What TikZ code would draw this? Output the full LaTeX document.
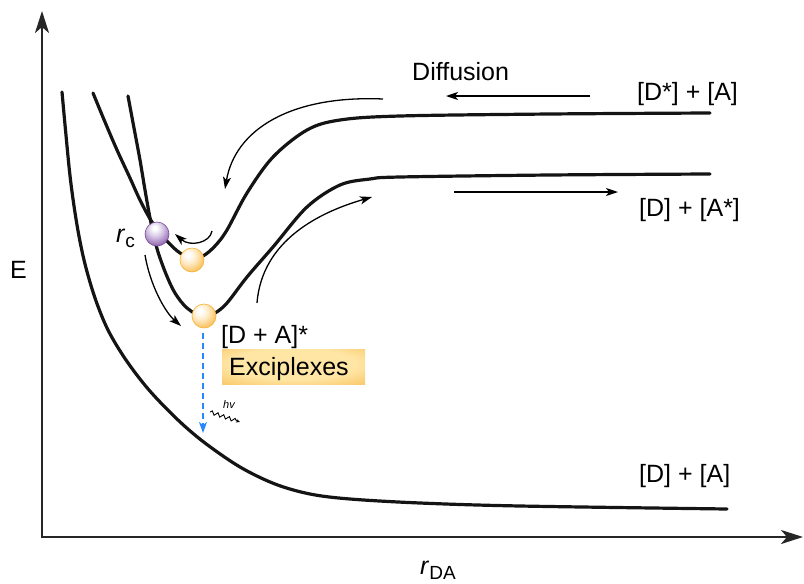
\documentclass[tikz,border=0pt]{standalone}
\usepackage{fontspec}
\setmainfont{Liberation Sans}
\usetikzlibrary{arrows.meta,decorations.pathmorphing}
\definecolor{ballOr}{RGB}{247,178,52}
\definecolor{ballOrM}{RGB}{250,200,110}
\definecolor{ballOrL}{RGB}{254,236,200}
\definecolor{purp}{RGB}{120,74,152}
\definecolor{purpM}{RGB}{150,108,180}
\definecolor{purpL}{RGB}{215,200,230}
\definecolor{hvblue}{RGB}{40,135,255}
\definecolor{boxOut}{RGB}{245,182,70}
\definecolor{boxIn}{RGB}{255,230,165}
\pgfdeclareradialshading{orangeballsh}{\pgfpoint{-9bp}{11bp}}{color(0bp)=(white); color(4bp)=(white); color(16bp)=(ballOrL); color(30bp)=(ballOrM); color(44bp)=(ballOr); color(100bp)=(ballOr)}
\pgfdeclareradialshading{purpleballsh}{\pgfpoint{-5bp}{13bp}}{color(0bp)=(white); color(4bp)=(white); color(16bp)=(purpL); color(32bp)=(purpM); color(48bp)=(purp); color(100bp)=(purp)}
\pgfdeclareradialshading{boxsh}{\pgfpoint{0bp}{5bp}}{color(0bp)=(boxIn); color(22bp)=(boxIn); color(48bp)=(boxOut); color(100bp)=(boxOut)}
\tikzset{
  curve/.style={line width=3.2pt, black!92, line cap=round},
  axisline/.style={line width=2.6pt, black!85, -{Stealth[length=22pt,width=14pt,inset=6pt]}},
  thinarrow/.style={line width=1.3pt, -{Stealth[length=12pt,width=8pt,inset=3pt]}},
  obal/.style={circle, minimum size=24pt, inner sep=0pt, shading=orangeballsh, draw=ballOr, line width=0.6pt},
  pbal/.style={circle, minimum size=24pt, inner sep=0pt, shading=purpleballsh, draw=purp, line width=0.6pt},
  lbl/.style={anchor=base west, inner sep=0pt, font=\fontsize{25}{28}\selectfont},
}
\begin{document}
\begin{tikzpicture}[x=1pt,y=-1pt]
\useasboundingbox (0,0) rectangle (804,584);
% axes
\coordinate (O) at (42,537);
\coordinate (Ytop) at (42,11);
\coordinate (Xend) at (803,537);
\draw[axisline] (O) -- (Ytop);
\draw[axisline, line cap=rect] (O) -- (Xend);
% ground state curve
\draw[curve] plot[smooth,tension=0.55] coordinates {(62,92) (65.5,130) (70.5,180) (77,225) (84.5,262) (95,298) (108,330) (126,360) (149,390) (178,420) (205,443) (240,467) (275,484) (310,494) (350,499) (420,503) (520,506) (727,509)};
% upper curve [D*]+[A]
\draw[curve] plot[smooth,tension=0.55] coordinates {(93,93) (105,122) (117,150) (130,178) (140,200) (152,222) (167,241) (180,253) (192,258) (203,256) (215,246) (227,230) (247,193) (273,157) (307,130) (340,120) (400,116) (550,114) (710,113)};
% middle curve [D]+[A*]
\draw[curve] plot[smooth,tension=0.55] coordinates {(128,96) (134,128) (140,160) (145,190) (150,218) (154,236) (158,252) (166,274) (175,293) (187,308) (203,317) (215,313) (227,303) (247,277) (273,247) (307,207) (340,185) (370,179) (400,177) (550,175) (710,174)};
% balls
\node[pbal] (rcball) at (157,234) {};
\node[obal] (upball) at (192,260) {};
\node[obal] (lowball) at (204,316) {};
% labels
\node[lbl] (diff) at (412,80) {Diffusion};
\node[lbl] (dsa) at (637,100) {[D*] + [A]};
\node[lbl] (das) at (639,216) {[D] + [A*]};
\node[lbl] (da) at (639,482) {[D] + [A]};
\node[lbl] (dap) at (221,343) {[D + A]*};
\node[lbl] (E) at (10,278) {E};
\node[lbl] (rda) at (420,574) {\textit{r}\raisebox{-5pt}{\fontsize{19}{20}\selectfont DA}};
\node[lbl] (rc) at (116,242) {\textit{r}\raisebox{-5pt}{\fontsize{19}{20}\selectfont c}};
\node[minimum width=143pt, minimum height=35pt, inner sep=0pt, shading=boxsh] (exbox) at (293.5,366.5) {};
\node[lbl] (ex) at (229,375) {Exciplexes};
% straight arrows
\coordinate (d1) at (590,96);
\coordinate (d2) at (446,96);
\coordinate (a1) at (454,192);
\coordinate (a2) at (618,192);
\draw[thinarrow] (d1) -- (d2);
\draw[thinarrow] (a1) -- (a2);
% curved arrows
\coordinate (c1s) at (383,99);
\coordinate (c1e) at (225,189);
\draw[thinarrow] (c1s) .. controls (290,95) and (235,130) .. (c1e);
\coordinate (c2s) at (212,231);
\coordinate (c2e) at (175,234);
\draw[thinarrow] (c2s) .. controls (210,243) and (190,247) .. (c2e);
\coordinate (c3s) at (145,255);
\coordinate (c3e) at (181,326);
\draw[thinarrow] (c3s) .. controls (150,285) and (165,312) .. (c3e);
\coordinate (c4s) at (257,303);
\coordinate (c4e) at (372,197);
\draw[thinarrow] (c4s) .. controls (262,240) and (320,212) .. (c4e);
% emission
\coordinate (em1) at (203,333);
\coordinate (em2) at (203,433);
\draw[hvblue, line width=1.6pt, dash pattern=on 6pt off 4pt, -{Stealth[length=11pt,width=8pt,inset=3pt]}] (em1) -- (em2);
\coordinate (w1) at (210,412);
\coordinate (w2) at (240,422);
\draw[line width=0.9pt, -{Stealth[length=4pt,width=3.5pt]}, decorate, decoration={snake, amplitude=1.8pt, segment length=6pt, post length=3pt}] (w1) -- (w2);
\node[inner sep=0pt, font=\fontsize{11}{12}\selectfont\itshape] (hv) at (229,405) {hv};
\end{tikzpicture}
\end{document}
